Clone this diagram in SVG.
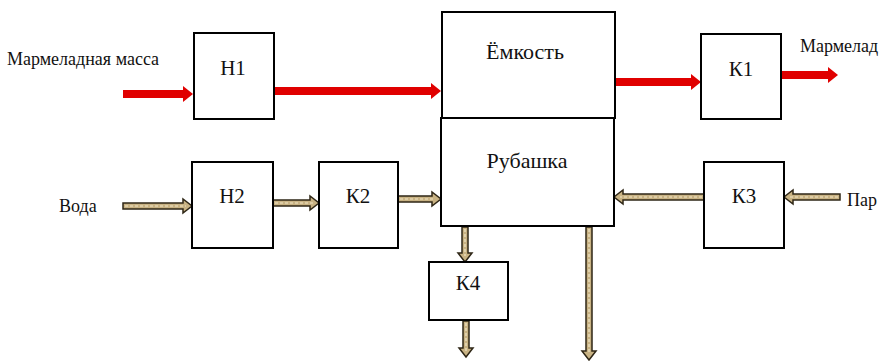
<svg xmlns="http://www.w3.org/2000/svg" width="880" height="363" viewBox="0 0 880 363">
<style>
.box{fill:#fff;stroke:#000;stroke-width:2}
text{font-family:'Liberation Serif','Times New Roman','DejaVu Serif',serif;font-size:18px;fill:#111}
.m{text-anchor:middle;font-size:21px}
.big{font-size:22px}
.red{fill:#e00000;stroke:none}
.tan{fill:#c8b283;stroke:#2e2616;stroke-width:1.5}
.tex{fill:none;stroke:#f1e6c8;stroke-width:1.2;stroke-dasharray:3 2}
</style>
<rect width="880" height="363" fill="#fff"/>
<g id="connectors">
<path class="red" d="M123,90 L183,90 L183,86 L193,94 L183,102 L183,98 L123,98 Z"/>
<path class="red" d="M274,87 L431,87 L431,83 L441,91 L431,99 L431,95 L274,95 Z"/>
<path class="red" d="M615,78 L691,78 L691,74 L701,82 L691,90 L691,86 L615,86 Z"/>
<path class="red" d="M781,71 L828,71 L828,67 L838,75 L828,83 L828,79 L781,79 Z"/>
<path class="tan" d="M123,203 L183,203 L183,199 L192,206 L183,213 L183,209 L123,209 Z"/>
<path class="tex" d="M125,206 L186,206"/>
<path class="tan" d="M273,200 L310,200 L310,196 L319,203 L310,210 L310,206 L273,206 Z"/>
<path class="tex" d="M275,203 L313,203"/>
<path class="tan" d="M398,196 L432,196 L432,192 L441,199 L432,206 L432,202 L398,202 Z"/>
<path class="tex" d="M400,199 L435,199"/>
<path class="tan" d="M704,194 L623,194 L623,190 L614,197 L623,204 L623,200 L704,200 Z"/>
<path class="tex" d="M702,197 L620,197"/>
<path class="tan" d="M840,194 L793,194 L793,190 L784,197 L793,204 L793,200 L840,200 Z"/>
<path class="tex" d="M838,197 L790,197"/>
<path class="tan" d="M462,227 L462,253 L458,253 L465,262 L472,253 L468,253 L468,227 Z"/>
<path class="tex" d="M465,229 L465,256"/>
<path class="tan" d="M463,321 L463,348 L459,348 L466,357 L473,348 L469,348 L469,321 Z"/>
<path class="tex" d="M466,323 L466,351"/>
<path class="tan" d="M586,227 L586,351 L582,351 L589,360 L596,351 L592,351 L592,227 Z"/>
<path class="tex" d="M589,229 L589,354"/>
</g>
<g id="n-h1"><rect class="box" x="194" y="33" width="80" height="86"/><text class="m" x="233" y="75">Н1</text></g>
<g id="n-emkost"><rect class="box" x="442" y="12" width="173" height="106"/><text class="m big" x="525" y="59">Ёмкость</text></g>
<g id="n-rubashka"><rect class="box" x="441" y="118" width="173" height="108"/><text class="m big" x="527" y="168">Рубашка</text></g>
<g id="n-k1"><rect class="box" x="701" y="34" width="80" height="85"/><text class="m" x="741" y="76">К1</text></g>
<g id="n-h2"><rect class="box" x="192" y="162" width="81" height="86"/><text class="m" x="232" y="203">Н2</text></g>
<g id="n-k2"><rect class="box" x="319" y="162" width="79" height="86"/><text class="m" x="358" y="203">К2</text></g>
<g id="n-k3"><rect class="box" x="704" y="162" width="80" height="86"/><text class="m" x="744" y="203">К3</text></g>
<g id="n-k4"><rect class="box" x="429" y="262" width="79" height="58"/><text class="m" x="468" y="290">К4</text></g>
<g id="labels">
<text x="800" y="52">Мармелад</text>
<text x="7" y="65">Мармеладная масса</text>
<text x="59" y="212">Вода</text>
<text x="847" y="206">Пар</text>
</g>
</svg>
